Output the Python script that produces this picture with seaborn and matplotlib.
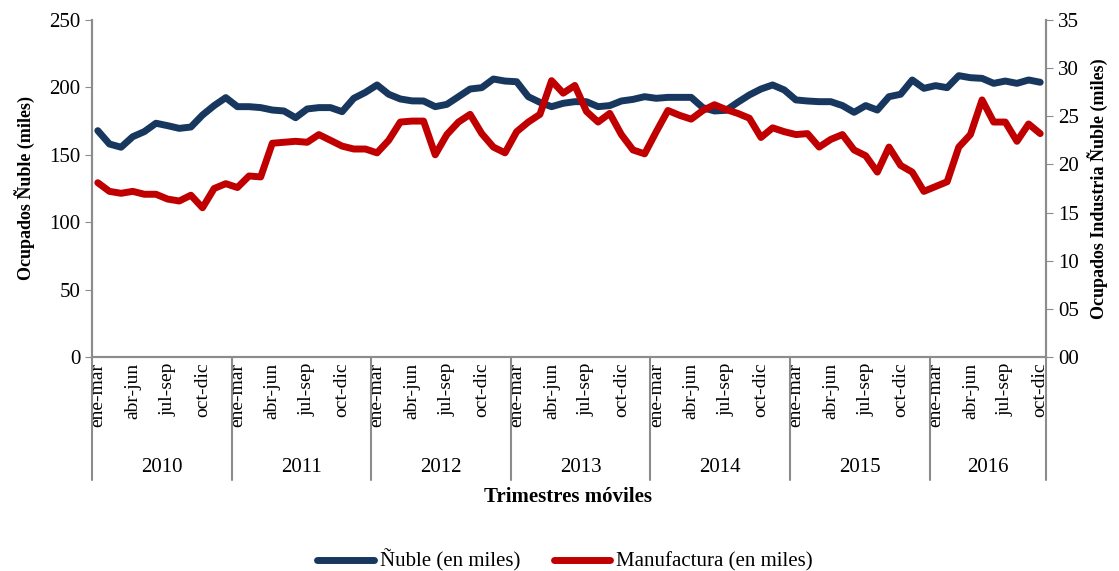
import pandas as pd
import seaborn as sns
import matplotlib.pyplot as plt
from matplotlib.transforms import blended_transform_factory

# categories
years = ['2010', '2011', '2012', '2013', '2014', '2015', '2016']
months_per_year = [12, 12, 12, 12, 12, 12, 10]
tick_names = ['ene-mar', 'abr-jun', 'jul-sep', 'oct-dic']

# Ocupados Ñuble (miles), left axis
nuble = [167.9, 158.0, 155.6, 163.4, 167.2, 173.4, 171.6, 169.6, 170.6, 179.5, 186.5, 192.4,
         185.7, 185.7, 185.0, 183.2, 182.5, 177.5, 184.0, 185.0, 185.0, 182.0, 191.9, 196.3,
         201.8, 194.9, 191.4, 190.0, 189.9, 185.7, 187.4, 193.1, 198.8, 199.8, 206.2, 204.7,
         204.2, 193.1, 188.9, 185.7, 188.2, 189.4, 189.4, 185.7, 186.5, 189.9, 191.1, 193.1,
         191.9, 192.6, 192.6, 192.6, 185.0, 182.5, 183.0, 188.9, 194.4, 198.8, 201.8, 198.1,
         190.7, 189.9, 189.4, 189.4, 186.5, 181.5, 186.5, 183.2, 193.1, 194.9, 205.5, 199.3,
         201.3, 199.8, 208.7, 207.2, 206.7, 203.0, 204.7, 203.0, 205.5, 203.8]

# Ocupados industria manufacturera Ñuble (miles), right axis
manufactura = [18.1, 17.2, 17.0, 17.2, 16.9, 16.9, 16.4, 16.2, 16.8, 15.5, 17.5, 18.0,
               17.6, 18.8, 18.7, 22.2, 22.3, 22.4, 22.3, 23.1, 22.5, 21.9, 21.6, 21.6,
               21.2, 22.5, 24.4, 24.5, 24.5, 21.0, 23.1, 24.4, 25.2, 23.2, 21.8, 21.2,
               23.4, 24.4, 25.2, 28.7, 27.4, 28.2, 25.5, 24.4, 25.3, 23.1, 21.5, 21.1,
               23.4, 25.6, 25.1, 24.7, 25.6, 26.2, 25.7, 25.3, 24.8, 22.8, 23.8, 23.4,
               23.1, 23.2, 21.8, 22.6, 23.1, 21.5, 20.9, 19.2, 21.8, 19.9, 19.2, 17.2,
               17.7, 18.2, 21.8, 23.1, 26.7, 24.4, 24.4, 22.4, 24.2, 23.2]

df = pd.DataFrame({'idx': range(len(nuble)), 'nuble': nuble, 'manufactura': manufactura})

sns.set_style('white')
plt.rcParams['font.family'] = ['Liberation Serif', 'DejaVu Serif']
plt.rcParams['text.color'] = 'black'
plt.rcParams['axes.labelcolor'] = 'black'
plt.rcParams['xtick.color'] = 'black'
plt.rcParams['ytick.color'] = 'black'

blue = '#17375E'
red = '#C00000'
grey = '#8C8C8C'

fig = plt.figure(figsize=(11.19, 5.71), dpi=100)
ax = fig.add_axes([0.0822, 0.3748, 0.8526, 0.5902])
ax2 = ax.twinx()

sns.lineplot(data=df, x='idx', y='nuble', ax=ax, color=blue, linewidth=5, label='Ñuble (en miles)', legend=False)
sns.lineplot(data=df, x='idx', y='manufactura', ax=ax2, color=red, linewidth=5, label='Manufactura (en miles)', legend=False)

n = len(nuble)
ax.set_xlim(-0.5, n - 0.5)
ax.set_ylim(0, 250)
ax.set_yticks(range(0, 251, 50))
ax2.set_ylim(0, 35)
ax2.set_yticks(range(0, 36, 5))
ax2.set_yticklabels([f'{v:02d}' for v in range(0, 36, 5)])

# x ticks: every third rolling quarter
positions, labels = [], []
start = 0
for m in months_per_year:
    for k in range(0, m, 3):
        positions.append(start + k)
        labels.append(tick_names[k // 3])
    start += m
ax.set_xticks(positions)
ax.set_xticklabels(labels, rotation=90, fontsize=14)
ax.tick_params(axis='x', length=0, pad=4)
ax.tick_params(axis='y', labelsize=15, length=5, color=grey, labelcolor='black', direction='out')
ax2.tick_params(axis='y', labelsize=15, length=5, color=grey, labelcolor='black', direction='out')

ax.set_xlabel('')
ax.set_ylabel('Ocupados Ñuble (miles)', fontsize=13, fontweight='bold', labelpad=10)
ax2.set_ylabel('Ocupados Industria Ñuble (miles)', fontsize=13, fontweight='bold', labelpad=6)

for a in (ax, ax2):
    a.spines['top'].set_visible(False)
    for s in ('left', 'right', 'bottom'):
        a.spines[s].set_color(grey)
        a.spines[s].set_linewidth(1.5)

# year groups below the axis
trans = blended_transform_factory(ax.transData, ax.transAxes)
start = 0
bounds = [-0.5]
for y, m in zip(years, months_per_year):
    ax.text(start + (m - 1) / 2, -0.327, y, transform=trans, ha='center', va='center', fontsize=15)
    start += m
    bounds.append(start - 0.5)
for b in bounds:
    ax.plot([b, b], [0, -0.365], transform=trans, color=grey, lw=1.5, clip_on=False)

fig.text(0.508, 0.13, 'Trimestres móviles', ha='center', va='center', fontsize=15, fontweight='bold')

h1, l1 = ax.get_legend_handles_labels()
h2, l2 = ax2.get_legend_handles_labels()
fig.legend(h1 + h2, l1 + l2, loc='center', bbox_to_anchor=(0.505, 0.018), ncol=2, frameon=False,
           fontsize=15, handlelength=2.7, columnspacing=1.6, handletextpad=0.3)

fig.savefig('out.png', dpi=100)
